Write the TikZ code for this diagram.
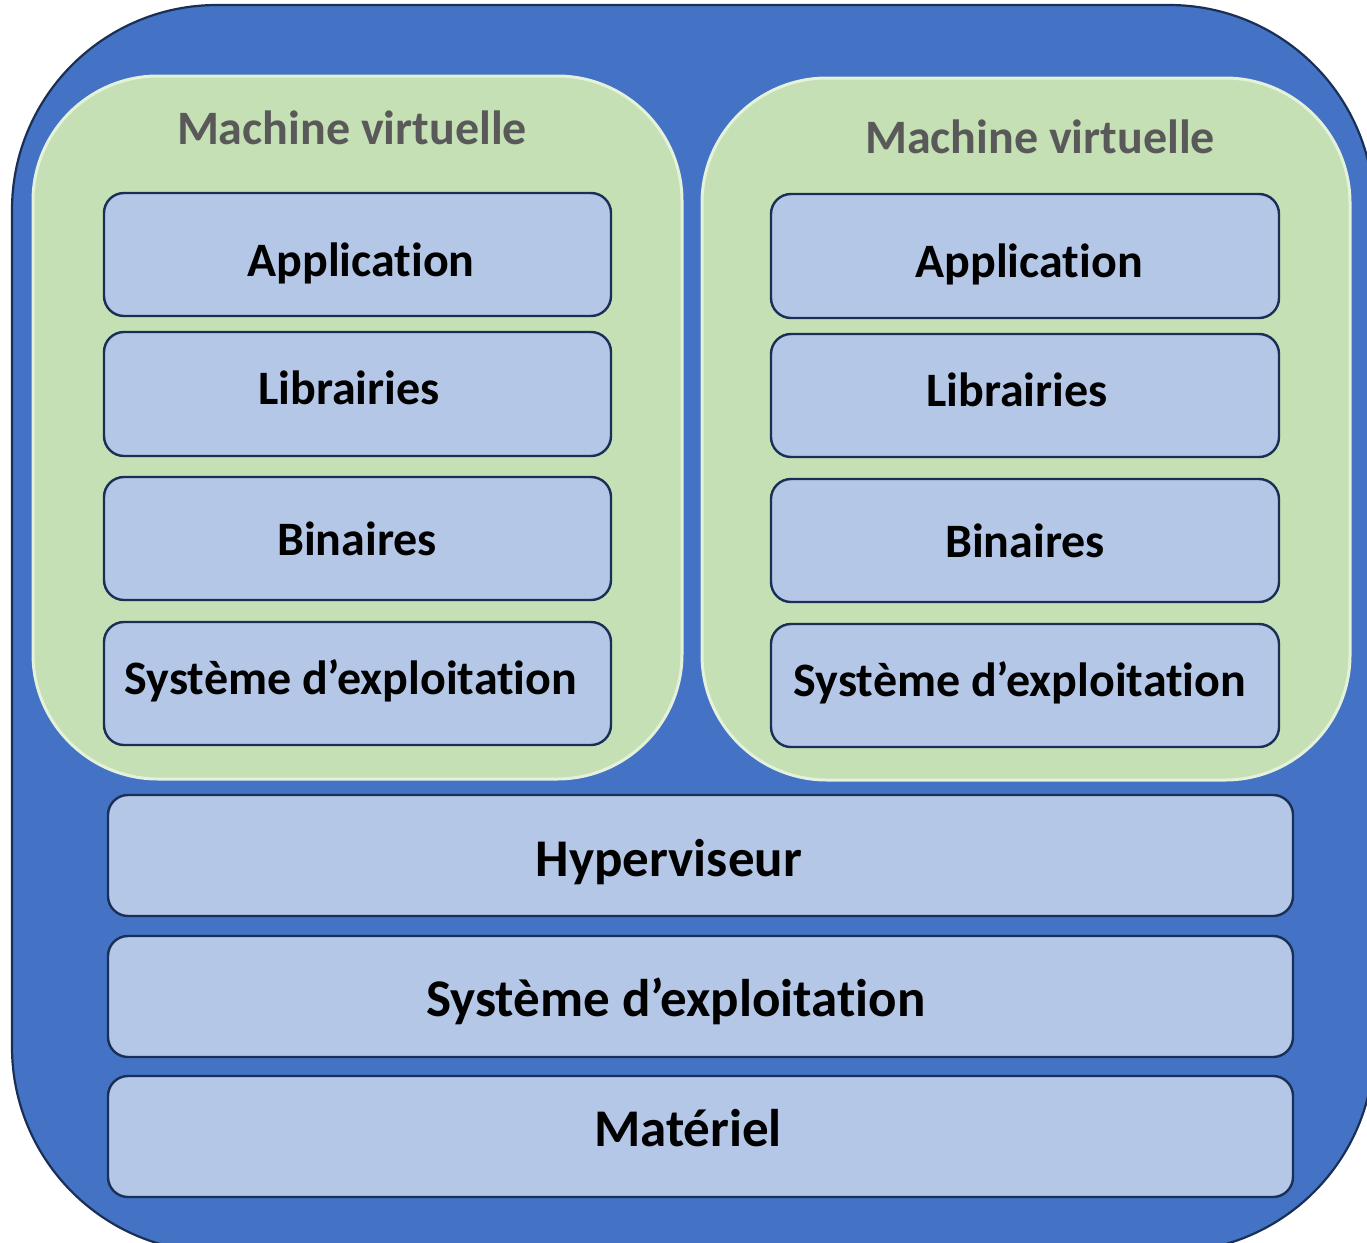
\documentclass[tikz,border=0pt]{standalone}
\usepackage{fontspec}
\setmainfont{Carlito}[Ligatures=NoCommon]
\definecolor{hostblue}{HTML}{4472C4}
\definecolor{navy}{HTML}{1A2F55}
\definecolor{vmgreen}{HTML}{C5E0B4}
\definecolor{vmedge}{HTML}{E4F1DB}
\definecolor{layerblue}{HTML}{B4C7E7}
\definecolor{titlegray}{HTML}{595959}
\begin{document}
\begin{tikzpicture}[x=1pt,y=-1pt,
  host/.style={fill=hostblue,draw=navy,line width=2.2pt,rounded corners=205pt},
  vm/.style={fill=vmgreen,draw=vmedge,line width=3pt,rounded corners=125pt},
  layer/.style={fill=layerblue,draw=navy,line width=2.4pt,rounded corners=20pt},
  % labels are centred on their capital height
  lbl/.style={font=\fontsize{48}{54}\selectfont\bfseries,text=black,
    inner sep=0pt,text height=30.3pt,text depth=0pt},
  biglbl/.style={font=\fontsize{53}{60}\selectfont\bfseries,text=black,
    inner sep=0pt,text height=33.5pt,text depth=0pt},
  vmtitle/.style={font=\fontsize{48}{54}\selectfont\bfseries,text=titlegray,
    inner sep=0pt,text height=30.3pt,text depth=0pt}]
  \useasboundingbox (0,0) rectangle (1367,1242);
  \clip (0,0) rectangle (1367,1242);
  % host machine
  \draw[host] (12,5) rectangle (1374,1252);
  % virtual machines
  \draw[vm] (33,76) rectangle (682,779);
  \draw[vm] (702,78) rectangle (1350,780);
  \node[vmtitle] (t1) at (352,129) {Machine virtuelle};
  \node[vmtitle] (t2) at (1040,138) {Machine virtuelle};
  % left VM stack
  \draw[layer] (104,193) rectangle (611,316);
  \draw[layer] (104,332) rectangle (611,456);
  \draw[layer] (104,477) rectangle (611,600);
  \draw[layer] (104,622) rectangle (611,745);
  \node[lbl] (a1) at (361,261) {Application};
  \node[lbl] (l1) at (349,389) {Librairies};
  \node[lbl] (b1) at (357,540) {Binaires};
  \node[lbl] (s1) at (351,679.5) {Système d’exploitation};
  % right VM stack
  \draw[layer] (771,194) rectangle (1279,318);
  \draw[layer] (771,334) rectangle (1279,457);
  \draw[layer] (771,479) rectangle (1279,602);
  \draw[layer] (771,624) rectangle (1279,747);
  \node[lbl] (a2) at (1029,262) {Application};
  \node[lbl] (l2) at (1017,391) {Librairies};
  \node[lbl] (b2) at (1025,542) {Binaires};
  \node[lbl] (s2) at (1020,681) {Système d’exploitation};
  % host layers
  \draw[layer] (108,795) rectangle (1293,916);
  \draw[layer] (108,936) rectangle (1293,1057);
  \draw[layer] (108,1076) rectangle (1293,1197);
  \node[biglbl] (hv) at (669,860) {Hyperviseur};
  \node[biglbl] (os) at (676,1000) {Système d’exploitation};
  \node[biglbl] (hw) at (688,1129.5) {Matériel};
\end{tikzpicture}
\end{document}
